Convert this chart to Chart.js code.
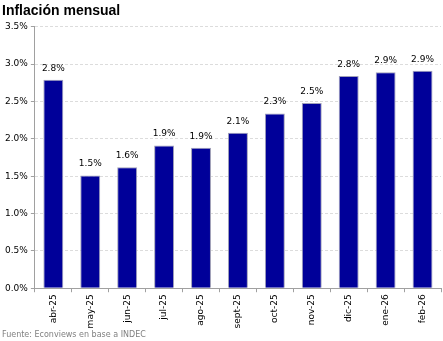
<!DOCTYPE html>
<html>
<head>
<meta charset="utf-8">
<script src="https://cdn.jsdelivr.net/npm/chart.js@4"></script>
<style>
  html, body { margin: 0; padding: 0; background: #fff; }
  #wrap { width: 443px; height: 341px; }
</style>
</head>
<body>
<div id="wrap"><canvas id="chart" width="443" height="341"></canvas></div>
<script>
// datos
const months = ['abr-25', 'may-25', 'jun-25', 'jul-25', 'ago-25', 'sept-25', 'oct-25', 'nov-25', 'dic-25', 'ene-26', 'feb-26'];
const inflation = [2.79, 1.51, 1.62, 1.91, 1.88, 2.08, 2.34, 2.48, 2.84, 2.89, 2.91];
const yTicks = [0, 0.5, 1, 1.5, 2, 2.5, 3, 3.5];

const font = 'DejaVu Sans';

// etiquetas encima de cada barra
const barLabels = {
    id: 'barLabels',
    afterDatasetsDraw(chart) {
        const ctx = chart.ctx;
        const meta = chart.getDatasetMeta(0);
        ctx.save();
        ctx.font = '9px "' + font + '"';
        ctx.fillStyle = '#000';
        ctx.textAlign = 'center';
        ctx.textBaseline = 'bottom';
        meta.data.forEach((bar, i) => {
            ctx.fillText(inflation[i].toFixed(1) + '%', bar.x, bar.y - 7);
        });
        ctx.restore();
    }
};

const ctx = document.getElementById('chart');
new Chart(ctx, {
    type: 'bar',
    data: {
        labels: months,
        datasets: [{
            data: inflation,
            backgroundColor: '#000099',
            borderColor: '#a0a0b8',
            borderWidth: 1,
            borderSkipped: 'bottom',
            barPercentage: 0.54,
            categoryPercentage: 1
        }]
    },
    options: {
        responsive: false,
        animation: false,
        layout: { padding: { left: 2, right: 2, top: 0, bottom: 0 } },
        plugins: {
            legend: { display: false },
            tooltip: { enabled: false },
            title: {
                display: true,
                text: 'Inflación mensual',
                align: 'start',
                color: '#000',
                font: { family: 'Liberation Sans', size: 14, weight: 'bold' },
                padding: { top: 3, bottom: 7 }
            },
            subtitle: {
                display: true,
                text: 'Fuente: Econviews en base a INDEC',
                position: 'bottom',
                align: 'start',
                color: '#808080',
                font: { family: font, size: 8 },
                padding: { top: 0, bottom: 1 }
            }
        },
        scales: {
            x: {
                grid: { display: true, drawOnChartArea: false, drawTicks: true, tickLength: 4, color: '#a0a0a0' },
                border: { color: '#a0a0a0' },
                ticks: {
                    color: '#000',
                    font: { family: font, size: 9 },
                    maxRotation: 90,
                    minRotation: 90,
                    padding: 2
                }
            },
            y: {
                min: 0,
                max: 3.5,
                afterBuildTicks: axis => { axis.ticks = yTicks.map(v => ({ value: v })); },
                grid: {
                    color: '#dcdcdc',
                    tickLength: 4,
                    tickColor: '#a0a0a0'
                },
                border: { color: '#a0a0a0', dash: [3, 2] },
                ticks: {
                    color: '#000',
                    font: { family: font, size: 9 },
                    padding: 3,
                    callback: v => v.toFixed(1) + '%'
                }
            }
        }
    },
    plugins: [barLabels]
});
</script>
</body>
</html>
